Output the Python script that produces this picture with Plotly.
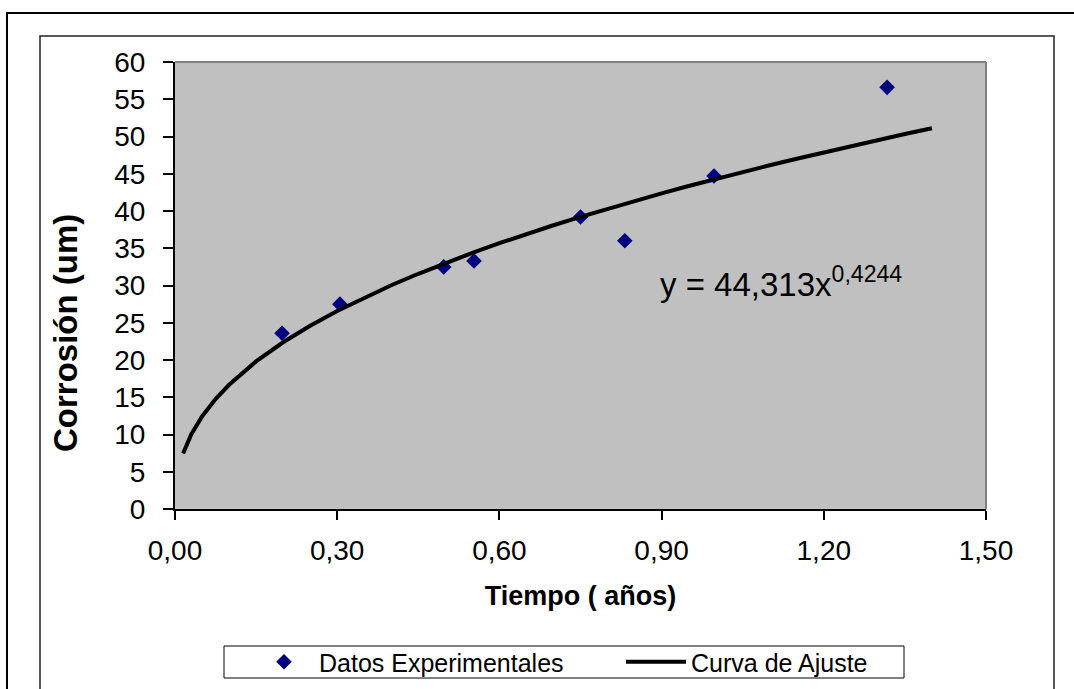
import plotly.graph_objects as go

# Experimental corrosion measurements
tiempo_exp = [0.198, 0.305, 0.497, 0.553, 0.750, 0.832, 0.997, 1.317]
corrosion_exp = [23.6, 27.5, 32.5, 33.3, 39.2, 36.0, 44.7, 56.6]

# Power-law fit y = A * x^B
coef_a = 44.313
coef_b = 0.4244
tiempo_ajuste = [0.015, 0.03, 0.05, 0.075, 0.10, 0.15, 0.20, 0.25, 0.30, 0.35,
                 0.40, 0.45, 0.50, 0.55, 0.60, 0.65, 0.70, 0.75, 0.80, 0.85,
                 0.90, 0.95, 1.00, 1.05, 1.10, 1.15, 1.20, 1.25, 1.30, 1.35, 1.40]
corrosion_ajuste = [coef_a * t ** coef_b for t in tiempo_ajuste]

x_ticks = [0.0, 0.3, 0.6, 0.9, 1.2, 1.5]
y_ticks = list(range(0, 61, 5))

W, H = 1074, 689
L, R, T, B = 175, 986, 62, 509


def px(x):
    return (x - L) / (R - L)


def py(y):
    return (B - y) / (B - T)


font = "Liberation Sans, Arial, sans-serif"

fig = go.Figure()
fig.add_trace(go.Scatter(
    x=tiempo_exp, y=corrosion_exp, mode="markers", name="Datos Experimentales",
    marker=dict(symbol="diamond", size=12, color="#000080", line=dict(width=0)),
    legend="legend",
))
fig.add_trace(go.Scatter(
    x=tiempo_ajuste, y=corrosion_ajuste, mode="lines", name="Curva de Ajuste",
    line=dict(color="black", width=4),
    legend="legend2",
))

shapes = [
    # outer frame
    dict(type="rect", xref="paper", yref="paper", x0=px(7), x1=px(1085), y0=py(13), y1=py(710),
         line=dict(color="black", width=2), layer="below"),
    # chart frame
    dict(type="rect", xref="paper", yref="paper", x0=px(40), x1=px(1054), y0=py(36), y1=py(710),
         line=dict(color="#222222", width=1.5), layer="below"),
    # plot area top/right edges
    dict(type="line", xref="paper", yref="paper", x0=0, x1=1, y0=1, y1=1,
         line=dict(color="#808080", width=2)),
    dict(type="line", xref="paper", yref="paper", x0=1, x1=1, y0=0, y1=1,
         line=dict(color="#808080", width=2)),
    # legend box
    dict(type="rect", xref="paper", yref="paper", x0=px(224), x1=px(904), y0=py(646), y1=py(678),
         line=dict(color="black", width=1), fillcolor="white", layer="below"),
]

annotations = [
    dict(text="<b>Corrosión (um)</b>", xref="paper", yref="paper", x=px(65), y=py(333),
         textangle=-90, showarrow=False, font=dict(family=font, size=33, color="black"),
         xanchor="center", yanchor="middle"),
    dict(text="y = 44,313x<sup>0,4244</sup>", xref="paper", yref="paper", x=px(658), y=py(282),
         showarrow=False, font=dict(family=font, size=33, color="black"),
         xanchor="left", yanchor="middle"),
]

legend_common = dict(
    orientation="h", xref="container", yref="container",
    xanchor="left", yanchor="middle", y=(H - 662) / H,
    borderwidth=0, bgcolor="rgba(0,0,0,0)",
    font=dict(family=font, size=25, color="black"),
    itemwidth=60,
)

fig.update_layout(
    width=W, height=H,
    margin=dict(l=L, r=W - R, t=T, b=H - B, autoexpand=False),
    paper_bgcolor="white",
    plot_bgcolor="#C0C0C0",
    separators=",.",
    showlegend=True,
    legend=dict(x=249 / W, **legend_common),
    legend2=dict(x=621 / W, **legend_common),
    shapes=shapes,
    annotations=annotations,
    xaxis=dict(
        range=[0, 1.5], tickvals=x_ticks, tickformat=".2f", automargin=False,
        showgrid=False, zeroline=False, showline=True, linecolor="black", linewidth=2,
        ticks="outside", ticklen=9, tickwidth=1.5, tickcolor="black",
        tickfont=dict(family=font, size=28, color="black"), ticklabelstandoff=6,
        title=dict(text="<b>Tiempo ( años)</b>", font=dict(family=font, size=27, color="black"),
                   standoff=22),
    ),
    yaxis=dict(
        range=[0, 60], tickvals=y_ticks, automargin=False,
        showgrid=False, zeroline=False, showline=True, linecolor="black", linewidth=2,
        ticks="outside", ticklen=10, tickwidth=1.5, tickcolor="black",
        tickfont=dict(family=font, size=28, color="black"), ticklabelstandoff=12,
    ),
)

fig.write_html("out.html")
